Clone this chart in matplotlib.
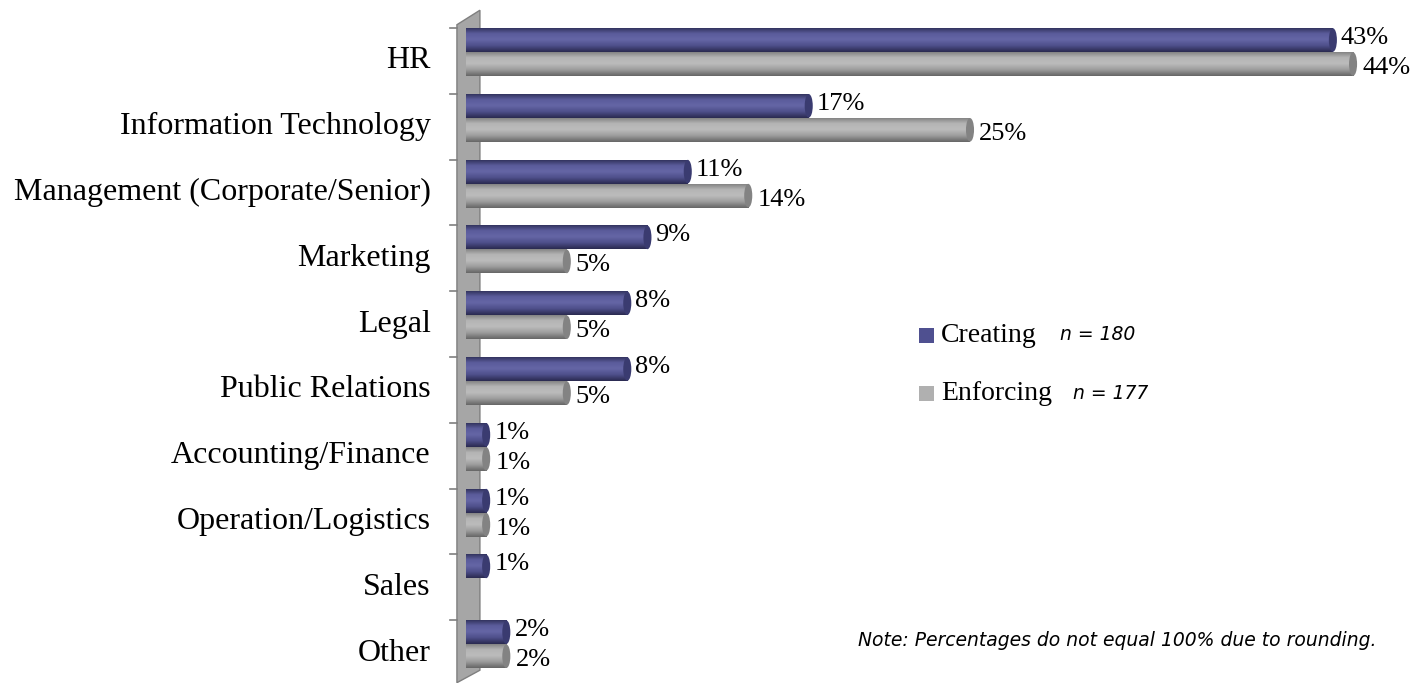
import numpy as np
import matplotlib.pyplot as plt
from matplotlib.patches import Ellipse, Polygon, Rectangle
from matplotlib.colors import LinearSegmentedColormap

# %%
# Data
categories = ['HR', 'Information Technology', 'Management (Corporate/Senior)',
              'Marketing', 'Legal', 'Public Relations', 'Accounting/Finance',
              'Operation/Logistics', 'Sales', 'Other']
creating = [43, 17, 11, 9, 8, 8, 1, 1, 1, 2]
enforcing = [44, 25, 14, 5, 5, 5, 1, 1, np.nan, 2]
series_names = ['Creating', 'Enforcing']
series_n = ['n = 180', 'n = 177']
note = 'Note: Percentages do not equal 100% due to rounding.'

# %%
SERIF = ['Liberation Serif', 'DejaVu Serif']
SANS = ['DejaVu Sans']

blue_cmap = LinearSegmentedColormap.from_list(
    'blue_cyl', ['#2c2d55', '#5a5b9a', '#6566a6', '#4e4f8a', '#2a2a50'])
gray_cmap = LinearSegmentedColormap.from_list(
    'gray_cyl', ['#7c7c7c', '#b4b4b4', '#bcbcbc', '#9c9c9c', '#666666'])

W, H = 1428, 683
fig = plt.figure(figsize=(W / 100, H / 100), dpi=100)

px_per_pct = 20.16
band_px = 65.8
x0_px, y0_px = 466, 28
xmax = 47
nb = len(categories)
ax = fig.add_axes([x0_px / W, 1 - (y0_px + nb * band_px) / H,
                   xmax * px_per_pct / W, nb * band_px / H])
ax.set_xlim(0, xmax)
ax.set_ylim(nb, 0)
ax.axis('off')

# gray back wall with perspective ends
wall = Polygon([(-0.45, -0.05), (0.69, -0.27), (0.69, 9.76), (-0.45, 9.95)],
               closed=True, facecolor='#a6a6a6', edgecolor='#7f7f7f',
               lw=1, clip_on=False, zorder=1)
ax.add_patch(wall)
for i in range(nb):
    ax.plot([-0.8, -0.45], [i, i], color='#7f7f7f', lw=1.2,
            clip_on=False, zorder=1)

bar_h = 0.365
y = np.arange(nb)
grad = np.linspace(0, 1, 64).reshape(-1, 1)
cap_w = 0.4

for vals, offset, cmap, cap_col, dx, dy in [
        (creating, 0.0, blue_cmap, '#3a3b70', 0.4, -0.03),
        (enforcing, bar_h, gray_cmap, '#838383', 0.45, 0.06)]:
    bars = ax.barh(y + offset, vals, height=bar_h, align='edge',
                   color='none', edgecolor='none', zorder=2)
    for b, v in zip(bars, vals):
        if np.isnan(v):
            continue
        bx, by = b.get_x(), b.get_y()
        bw, bh = b.get_width(), b.get_height()
        im = ax.imshow(grad, extent=[bx, bx + bw, by + bh, by],
                       aspect='auto', cmap=cmap, zorder=3,
                       interpolation='bilinear')
        im.set_clip_path(b)
        ax.add_patch(Ellipse((bx + bw, by + bh / 2), cap_w, bh * 0.98,
                             facecolor=cap_col, edgecolor='none', zorder=4))
        ax.text(bx + bw + dx, by + bh / 2 + dy, f'{v:.0f}%',
                ha='left', va='center', fontsize=19, family=SERIF,
                zorder=5)

ax.set_xlim(0, xmax)
ax.set_ylim(nb, 0)

for i, cat in enumerate(categories):
    ax.text(-1.75, i + 0.5, cat, ha='right', va='center',
            fontsize=23, family=SERIF)

# legend
for k, (name, n, col) in enumerate(zip(series_names, series_n,
                                       ['#4f5090', '#b0b0b0'])):
    yc = 335 + k * 58
    fig.patches.append(Rectangle((919 / W, 1 - (yc + 7.5) / H),
                                 15 / W, 15 / H, transform=fig.transFigure,
                                 facecolor=col, edgecolor='none'))
    fig.text(941 / W, 1 - yc / H, name, ha='left', va='center',
             fontsize=20, family=SERIF)
    fig.text((1060 + k * 13) / W, 1 - yc / H, n, ha='left', va='center',
             fontsize=13.5, family=SANS, style='italic')

fig.text(1377 / W, 1 - 640 / H, note, ha='right', va='center',
         fontsize=13.5, family=SANS, style='italic')

fig.savefig('out.png', dpi=100)
